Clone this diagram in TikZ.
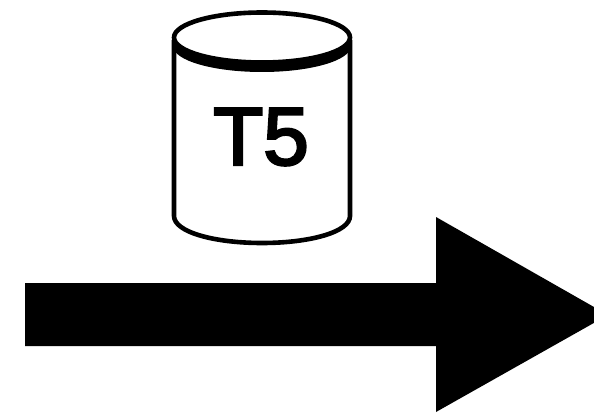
\documentclass[tikz,border=0pt]{standalone}
\usepackage{fontspec}
\newfontfamily\lblfont[FakeBold=3]{Liberation Sans}
\tikzset{
  lbl/.style={font=\lblfont\fontsize{82}{82}\selectfont, text=black, inner sep=0pt},
  can/.style={draw=black, line width=4.6pt, line join=round},
  bigarrow/.style={fill=black, draw=none}
}
\begin{document}
\begin{tikzpicture}[x=1pt,y=-1pt]
\useasboundingbox (0,0) rectangle (594,414);
\fill[white] (0,0) rectangle (594,414);
\draw[can, fill=white] (174,40) -- (174,216) .. controls (174,232) and (214,243) .. (262,243) .. controls (310,243) and (350,232) .. (350,216) -- (350,40);
\fill[black] (262,46) ellipse [x radius=89, y radius=26];
\draw[can, fill=white] (262,37.5) ellipse [x radius=88, y radius=25];
\node[lbl] (t) at (261,137) {T5};
\fill[bigarrow] (25,283) -- (436,283) -- (436,217) -- (608,315) -- (436,412) -- (436,346) -- (25,346) -- cycle;
\end{tikzpicture}
\end{document}
